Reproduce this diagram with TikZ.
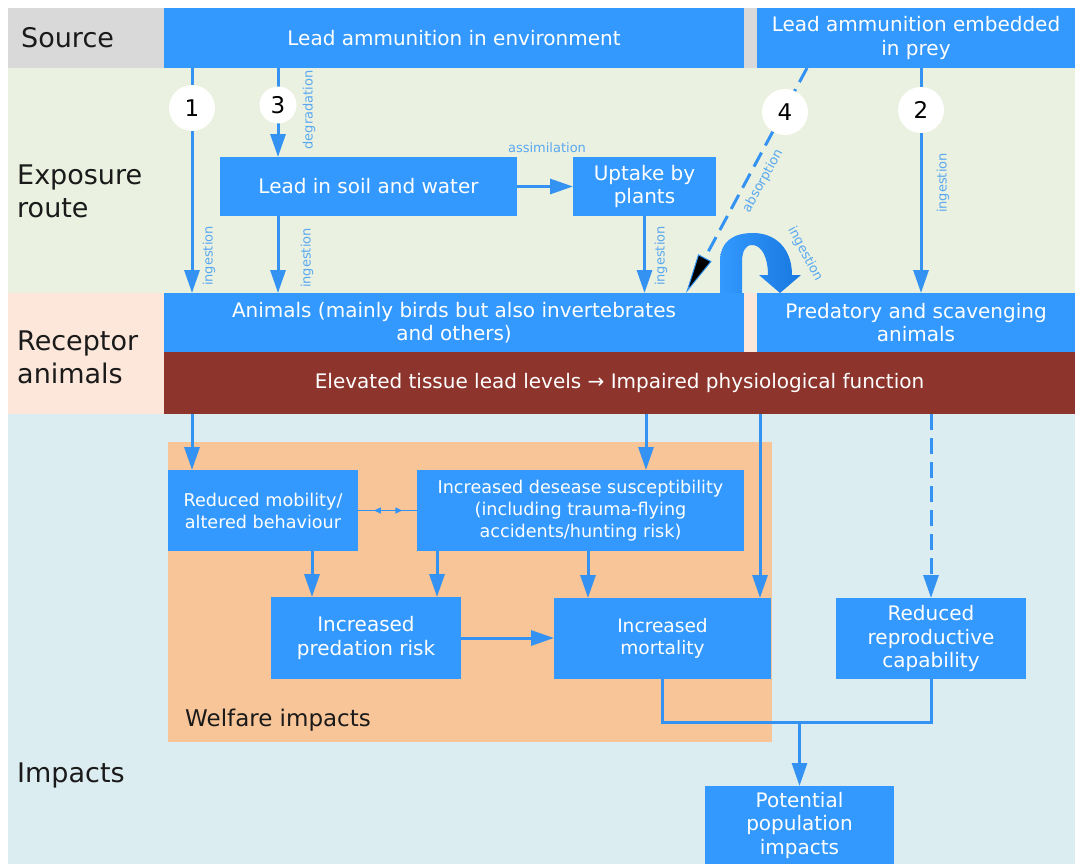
\documentclass[tikz,border=0pt]{standalone}
\usepackage{fontspec}
\setmainfont{DejaVu Sans}
\usetikzlibrary{arrows.meta,calc,decorations.markings}
\definecolor{boxblue}{HTML}{3399FF}
\definecolor{arrblue}{HTML}{3392F2}
\definecolor{lblblue}{HTML}{5AA8F0}
\definecolor{srcgray}{HTML}{D9D9D9}
\definecolor{expgreen}{HTML}{EAF1E0}
\definecolor{recpeach}{HTML}{FDE7DB}
\definecolor{impblue}{HTML}{DCEDF2}
\definecolor{welforange}{HTML}{F8C598}
\definecolor{darkred}{HTML}{8D352D}
\definecolor{curveblue}{HTML}{1878E0}
\definecolor{lbltext}{HTML}{1A1A1A}
\begin{document}
\begin{tikzpicture}[x=1pt,y=-1pt,
  box/.style={fill=boxblue, text=white, inner sep=0pt, outer sep=0pt, align=center, anchor=north west,
    font=\fontsize{20pt}{23.5pt}\selectfont},
  smallbox/.style={box, font=\fontsize{17.6pt}{22pt}\selectfont},
  midbox/.style={box, font=\fontsize{18.6pt}{22pt}\selectfont},
  band/.style={text=lbltext, anchor=west, align=left, inner sep=0pt, font=\fontsize{27pt}{33pt}\selectfont},
  circ/.style={circle, fill=white, inner sep=0pt, text=black, font=\fontsize{23pt}{23pt}\selectfont},
  lab/.style={text=lblblue, inner sep=0pt, font=\fontsize{13pt}{13pt}\selectfont},
  arr/.style={draw=arrblue, line width=3pt, -{Triangle[length=23pt,width=15pt]}},
  dsh/.style={arr, dash pattern=on 16pt off 8pt},
]
\useasboundingbox (0,0) rectangle (1075,864);
% background bands
\fill[srcgray] (8,8) rectangle (1075,68);
\fill[expgreen] (8,68) rectangle (1075,293);
\fill[recpeach] (8,293) rectangle (1075,414);
\fill[impblue] (8,414) rectangle (1075,864);
\fill[welforange] (168,442) rectangle (772,742);

% band labels
\node[band] (lsrc) at (21,38) {Source};
\node[band] (lexp) at (17,191) {Exposure\\route};
\node[band] (lrec) at (17,357) {Receptor\\animals};
\node[band] (limp) at (17,775) {Impacts};
\node[band, anchor=west, font=\fontsize{23pt}{26pt}\selectfont] (lwelf) at (185,720) {Welfare impacts};

% boxes
\node[box, minimum width=580pt, minimum height=60pt] (env) at (164,8) {Lead ammunition in environment};
\node[box, minimum width=318pt, minimum height=60pt] (prey) at (757,8) {Lead ammunition embedded\\in prey};
\node[box, minimum width=297pt, minimum height=59pt] (soil) at (220,157) {Lead in soil and water};
\node[box, minimum width=143pt, minimum height=59pt] (plants) at (573,157) {Uptake by\\plants};
\node[box, minimum width=580pt, minimum height=59pt] (animals) at (164,293) {Animals (mainly birds but also invertebrates\\and others)};
\node[box, minimum width=318pt, minimum height=59pt] (pred) at (757,293) {Predatory and scavenging\\animals};
\node[box, fill=darkred, minimum width=911pt, minimum height=62pt] (elev) at (164,352) {Elevated tissue lead levels → Impaired physiological function};
\node[smallbox, minimum width=190pt, minimum height=81pt] (mob) at (168,470) {Reduced mobility/\\altered behaviour};
\node[smallbox, minimum width=327pt, minimum height=81pt] (dis) at (417,470) {Increased desease susceptibility\\(including trauma-flying\\accidents/hunting risk)};
\node[box, minimum width=190pt, minimum height=82pt] (predr) at (271,597) {Increased\\predation risk};
\node[midbox, minimum width=217pt, minimum height=81pt] (mort) at (554,598) {Increased\\mortality};
\node[box, minimum width=190pt, minimum height=81pt] (repro) at (836,598) {Reduced\\reproductive\\capability};
\node[box, minimum width=189pt, minimum height=78pt] (pop) at (705,786) {Potential\\population\\impacts};

% circles (positions)
\coordinate (p1) at (192,108);
\coordinate (p3) at (278,105);
\coordinate (p4) at (785,112);
\coordinate (p2) at (921,110);

% upper arrows
\draw[arr] (env.south -| p1) -- (animals.north -| p1);
\draw[arr] (env.south -| p3) -- (soil.north -| p3);
\draw[arr] (soil.south -| p3) -- (animals.north -| p3);
\draw[arr] (soil.east) -- (plants.west);
\draw[arr] (plants.south) -- (animals.north -| plants.south);
\draw[arr] (prey.south -| p2) -- (pred.north -| p2);
\coordinate (d4a) at ($(prey.south west)+(50,0)$);
\coordinate (d4b) at ($(animals.north east)+(-58,0)$);
\draw[draw=arrblue, line width=3pt, dash pattern=on 16pt off 8pt,
  -{Triangle[length=40pt,width=15pt,fill=black,line width=1pt]}] (d4a) -- (d4b);

% curved ingestion arrow (filled shape from Animals to Predatory)
\coordinate (ca) at ($(animals.north east)+(-24,0)$);
\shade[left color=boxblue, right color=curveblue, shift={(ca)}]
  (0,0) -- (0,-31) .. controls (0,-53) and (15,-60) .. (33,-60)
  .. controls (55,-60) and (72,-45) .. (72,-18) -- (81,-18) -- (60,0) -- (39,-18) -- (48,-18)
  .. controls (48,-35) and (42,-48) .. (32,-48) .. controls (25,-48) and (22,-41) .. (22,-31)
  -- (22,0) -- cycle;

% circles
\node[circ, minimum size=46pt] (c1) at (p1) {1};
\node[circ, minimum size=37pt] (c3) at (p3) {3};
\node[circ, minimum size=46pt] (c4) at (p4) {4};
\node[circ, minimum size=46pt] (c2) at (p2) {2};

% arrow labels
\node[lab, rotate=90] (l1) at (209,256) {ingestion};
\node[lab, rotate=90] (l3) at (309,110) {degradation};
\node[lab, rotate=90] (l5) at (307,258) {ingestion};
\node[lab] (l6) at (547,148) {assimilation};
\node[lab, rotate=90] (l7) at (661,256) {ingestion};
\node[lab, rotate=61] (l8) at (763,181) {absorption};
\node[lab, rotate=-62] (l9) at (805,254) {ingestion};
\node[lab, rotate=90] (l2) at (943,183) {ingestion};

% lower arrows
\coordinate (m1) at ($(mob.north west)+(24,0)$);
\draw[arr] (elev.south -| m1) -- (m1);
\coordinate (d1) at ($(dis.north west)+(229,0)$);
\draw[arr] (elev.south -| d1) -- (d1);
\coordinate (mt1) at ($(mort.north west)+(206,0)$);
\draw[arr] (elev.south -| mt1) -- (mt1);
\draw[dsh] (elev.south -| repro.north) -- (repro.north);
\coordinate (pr1) at ($(predr.north west)+(41,0)$);
\draw[arr] (mob.south -| pr1) -- (pr1);
\coordinate (pr2) at ($(predr.north west)+(166,0)$);
\draw[arr] (dis.south -| pr2) -- (pr2);
\coordinate (mt2) at ($(mort.north west)+(34,0)$);
\draw[arr] (dis.south -| mt2) -- (mt2);
\draw[arr] (predr.east) -- (predr.east -| mort.west);
\draw[draw=arrblue, line width=1.5pt, postaction={decorate},
  decoration={markings,
    mark=at position 0.27 with {\arrowreversed{Triangle[length=7pt,width=6pt]}},
    mark=at position 0.75 with {\arrow{Triangle[length=7pt,width=6pt]}}}]
  (mob.east) -- (dis.west);
\coordinate (jn) at ($(pop.north)+(0,-64)$);
\draw[draw=arrblue, line width=3pt] (mort.south) |- (jn) -| (repro.south);
\draw[arr] (jn) -- (pop.north);
\end{tikzpicture}
\end{document}
